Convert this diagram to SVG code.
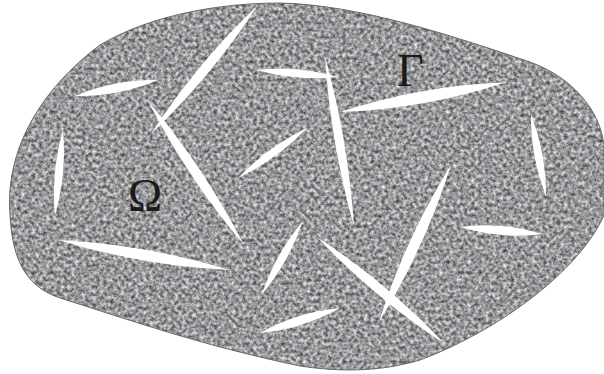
<svg xmlns="http://www.w3.org/2000/svg" xmlns:xlink="http://www.w3.org/1999/xlink" width="604" height="374" viewBox="0 0 604 374">
  <defs>
    <filter id="grain" x="0" y="0" width="100%" height="100%" color-interpolation-filters="sRGB">
      <feTurbulence type="fractalNoise" baseFrequency="0.28" numOctaves="3" seed="7" result="n"/>
      <feColorMatrix in="n" type="matrix" values="0.95 0.06 0 0 0.09  0.95 0.08 0 0 0.08  0.95 0 0.06 0 0.1  0 0 0 0 1" result="c"/>
      <feComposite in="c" in2="SourceGraphic" operator="in"/>
    </filter>
    <path id="lens" d="M0,0 Q0.5,1 1,0 Q0.5,-1 0,0 Z"/>
    <style>
      .crack { fill: #ffffff; }
      .lbl { font-family: "Liberation Serif", "DejaVu Serif", serif; font-size: 46px; fill: #1a1a1a; }
    </style>
  </defs>
  <rect width="604" height="374" fill="#ffffff"/>
  <g id="domain">
    <path id="blob-fill" d="M10,215 C5,150 40,90 100,45 C150,15 220,3 280,3 C360,5 450,35 530,62 C580,80 604,120 604,150 L604,215 C580,270 500,330 420,360 C380,372 340,372 300,366 C200,345 130,320 60,298 C20,285 12,250 10,215 Z" fill="#9a979b" filter="url(#grain)"/>
    <path d="M10,215 C5,150 40,90 100,45 C150,15 220,3 280,3 C360,5 450,35 530,62 C580,80 604,120 604,150 L604,215 C580,270 500,330 420,360 C380,372 340,372 300,366 C200,345 130,320 60,298 C20,285 12,250 10,215 Z" fill="none" stroke="#6a686c" stroke-width="1"/>
  </g>
  <g id="cracks" class="crack">
    <use xlink:href="#lens" transform="translate(258,5) rotate(129.7) scale(167.6,10)"/>
    <use xlink:href="#lens" transform="translate(75,96) rotate(-10.9) scale(84.5,9)"/>
    <use xlink:href="#lens" transform="translate(148,101) rotate(56.3) scale(173.1,10)"/>
    <use xlink:href="#lens" transform="translate(257,70) rotate(4.9) scale(81.3,8)"/>
    <use xlink:href="#lens" transform="translate(238,178) rotate(-35.9) scale(85.2,8)"/>
    <use xlink:href="#lens" transform="translate(325,57) rotate(80.3) scale(171.5,9)"/>
    <use xlink:href="#lens" transform="translate(340,112) rotate(-10.2) scale(168.7,12)"/>
    <use xlink:href="#lens" transform="translate(531,115) rotate(79.5) scale(82.4,8)"/>
    <use xlink:href="#lens" transform="translate(63,130) rotate(95.4) scale(85.4,8)"/>
    <use xlink:href="#lens" transform="translate(58,240) rotate(9.9) scale(174.6,11)"/>
    <use xlink:href="#lens" transform="translate(262,294) rotate(-60.7) scale(83.7,8)"/>
    <use xlink:href="#lens" transform="translate(260,333) rotate(-17.4) scale(83.8,9)"/>
    <use xlink:href="#lens" transform="translate(317,237) rotate(39.9) scale(166.8,10)"/>
    <use xlink:href="#lens" transform="translate(379,322) rotate(-65.4) scale(172.7,11)"/>
    <use xlink:href="#lens" transform="translate(460,227) rotate(4.8) scale(83.3,9)"/>
  </g>
  <g id="labels">
    <text class="lbl" x="128" y="211">Ω</text>
    <text class="lbl" x="397" y="86">Γ</text>
  </g>
</svg>
